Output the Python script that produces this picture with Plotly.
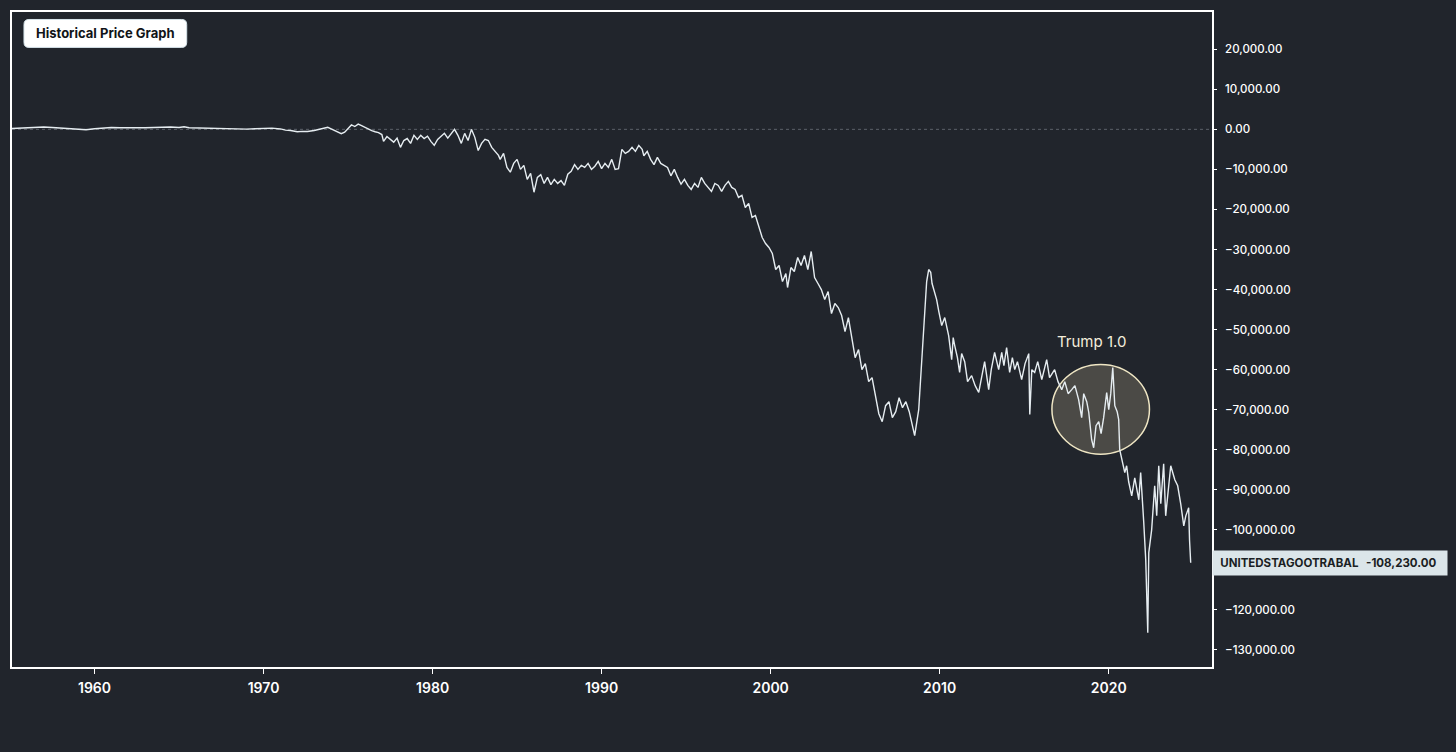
import plotly.graph_objects as go

# ---- data (US goods trade balance, millions USD) ----
years_a = [1955.1, 1955.5, 1956.0, 1956.5, 1957.0, 1957.5, 1958.0, 1958.5, 1959.0, 1959.5,
           1960.0, 1960.5, 1961.0, 1961.5, 1962.0, 1962.5, 1963.0, 1963.5, 1964.0, 1964.5,
           1965.0, 1965.3, 1965.6, 1966.0, 1966.5, 1967.0, 1967.5, 1968.0, 1968.5, 1969.0,
           1969.5, 1970.0, 1970.5, 1971.0, 1971.3, 1971.6, 1972.0, 1972.3, 1972.6, 1973.0,
           1973.3, 1973.6, 1973.8, 1974.0, 1974.3, 1974.6, 1974.8, 1975.0, 1975.2, 1975.4,
           1975.6, 1975.8]
balance_a = [200, 300, 400, 500, 600, 450, 300, 250, 0, -100,
             150, 350, 450, 400, 350, 300, 400, 450, 550, 600,
             450, 650, 400, 350, 300, 400, 350, 150, 100, 50,
             150, 250, 300, 100, -200, -300, -600, -500, -550, -300,
             0, 200, 500, 100, -600, -1100, -700, 300, 1100, 700,
             1300, 900]

years_b = [1976.0, 1976.2, 1976.4, 1976.6, 1976.8, 1977.0, 1977.1, 1977.3, 1977.5, 1977.7,
           1977.9, 1978.1, 1978.3, 1978.5, 1978.7, 1978.9, 1979.1, 1979.3, 1979.5, 1979.7,
           1979.9, 1980.1, 1980.3, 1980.5, 1980.7, 1980.9, 1981.1, 1981.3, 1981.5, 1981.7,
           1981.9, 1982.1, 1982.3, 1982.5, 1982.7, 1982.9, 1983.1, 1983.3, 1983.5, 1983.7,
           1983.9, 1984.0, 1984.2, 1984.4, 1984.6, 1984.8, 1985.0, 1985.2, 1985.4, 1985.6,
           1985.8, 1986.0, 1986.2, 1986.4, 1986.6, 1986.8, 1987.0, 1987.2, 1987.4, 1987.6,
           1987.8, 1988.0, 1988.2, 1988.4, 1988.6, 1988.8, 1989.0, 1989.2, 1989.4, 1989.6,
           1989.8, 1990.0, 1990.2, 1990.4, 1990.6, 1990.8, 1991.0, 1991.2, 1991.4, 1991.6,
           1991.8, 1992.0, 1992.2, 1992.4, 1992.5, 1992.7, 1992.9, 1993.1, 1993.3, 1993.5,
           1993.7, 1993.9, 1994.1, 1994.3, 1994.5, 1994.7, 1994.9, 1995.1, 1995.3, 1995.5,
           1995.7, 1995.9]
balance_b = [500, -100, -300, -600, -800, -1300, -3000, -1800, -2500, -3200,
             -2200, -4500, -2800, -2300, -3500, -1500, -2500, -1500, -2300, -1700,
             -3000, -4000, -2500, -1800, -1000, -2200, -1200, 0, -1500, -3500,
             -1000, -2800, 0, -2000, -5300, -3500, -2500, -2800, -4500, -5500,
             -6500, -7500, -6000, -9500, -10700, -8500, -7500, -10000, -9000, -12500,
             -11000, -15700, -12000, -11300, -13500, -12000, -13800, -12500, -13500, -12800,
             -14000, -11200, -10500, -8800, -10000, -9000, -9500, -8500, -10000, -9200,
             -8000, -9800, -8500, -9500, -7500, -10000, -9800, -5000, -6000, -5500,
             -4500, -5500, -4000, -5000, -6600, -5500, -7500, -8800, -7000, -8500,
             -9000, -9500, -11600, -10000, -12000, -13700, -12500, -14000, -15000, -13500,
             -14500, -12000]

years_c = [1996.1, 1996.3, 1996.5, 1996.7, 1996.9, 1997.1, 1997.3, 1997.5, 1997.7, 1997.9,
           1998.1, 1998.3, 1998.5, 1998.7, 1998.9, 1999.1, 1999.3, 1999.5, 1999.7, 1999.9,
           2000.1, 2000.3, 2000.5, 2000.7, 2000.9, 2001.0, 2001.2, 2001.4, 2001.6, 2001.8,
           2002.0, 2002.2, 2002.4, 2002.6, 2002.8, 2003.0, 2003.2, 2003.4, 2003.6, 2003.8,
           2004.0, 2004.2, 2004.4, 2004.6, 2004.8, 2005.0, 2005.2, 2005.4, 2005.6, 2005.8,
           2006.0, 2006.2, 2006.4, 2006.6, 2006.8, 2007.0, 2007.2, 2007.4, 2007.6, 2007.8,
           2008.0, 2008.2, 2008.35, 2008.52, 2008.76, 2008.93]
balance_c = [-13500, -14500, -15500, -13500, -14000, -15500, -14000, -13000, -14500, -15000,
             -17000, -16500, -19500, -18500, -22000, -21500, -24500, -27000, -28500, -29500,
             -31000, -35000, -34000, -38000, -36000, -39500, -34500, -35500, -32000, -34000,
             -31500, -35000, -30500, -37000, -38500, -40000, -42500, -40500, -46000, -43500,
             -44500, -46500, -50500, -47000, -52000, -57000, -55000, -60000, -58500, -63000,
             -62000, -67000, -71000, -73000, -69000, -68000, -72000, -70500, -67000, -69500,
             -68000, -70500, -73000, -76500, -70000, -58000]

years_d = [2009.05, 2009.23, 2009.35, 2009.47, 2009.55, 2009.64, 2009.82, 2009.95, 2010.12, 2010.3,
           2010.53, 2010.71, 2010.8, 2010.89, 2011.05, 2011.18, 2011.3, 2011.48, 2011.65, 2011.89,
           2012.1, 2012.31, 2012.5, 2012.66, 2012.9, 2013.05, 2013.25, 2013.49, 2013.67, 2013.8,
           2013.96, 2014.14, 2014.3, 2014.44, 2014.6, 2014.85, 2015.05, 2015.27, 2015.33, 2015.45,
           2015.62, 2015.8, 2016.04, 2016.2, 2016.33, 2016.5, 2016.63, 2016.8, 2017.0, 2017.22,
           2017.4, 2017.6, 2017.81, 2018.0, 2018.22, 2018.4, 2018.52, 2018.7, 2018.82, 2018.99,
           2019.11, 2019.25, 2019.41, 2019.55, 2019.7, 2019.88, 2020.0, 2020.12, 2020.24, 2020.36,
           2020.5, 2020.59, 2020.65, 2020.77, 2020.95, 2021.06, 2021.18, 2021.36, 2021.54, 2021.78,
           2021.89, 2022.07, 2022.19, 2022.31, 2022.37, 2022.54, 2022.72, 2022.84, 2022.96, 2023.08,
           2023.25, 2023.37, 2023.55, 2023.67, 2023.91, 2024.08, 2024.26, 2024.44, 2024.56, 2024.73,
           2024.78, 2024.85]
balance_d = [-51500, -38000, -35000, -35700, -38500, -40000, -42500, -45500, -49000, -47000,
             -51500, -57500, -52000, -54000, -57000, -60700, -56000, -58000, -63000, -61500,
             -64000, -65700, -61000, -58000, -65000, -60000, -55700, -60000, -55700, -59000,
             -54500, -60700, -57000, -60000, -58000, -62500, -58500, -56000, -71200, -60000,
             -60700, -58000, -62500, -60000, -57500, -62000, -61000, -60000, -63000, -65000,
             -63000, -66000, -65000, -64000, -67500, -72000, -66000, -68000, -70700, -77500,
             -79500, -74000, -73000, -76000, -72000, -65700, -70000, -66000, -59500, -69000,
             -70500, -72500, -80000, -82000, -85700, -84000, -88000, -91500, -87000, -92500,
             -85700, -98000, -107500, -125700, -105700, -100000, -89000, -96500, -84000, -93500,
             -83500, -96500, -89000, -84000, -87500, -89000, -93500, -99000, -96500, -94500,
             -102500, -108230]

series_name = "UNITEDSTAGOOTRABAL"
last_value_text = "-108,230.00"
y_ticks = [20000, 10000, 0, -10000, -20000, -30000, -40000, -50000, -60000, -70000,
           -80000, -90000, -100000, -120000, -130000]
x_ticks = [1960, 1970, 1980, 1990, 2000, 2010, 2020]

years = years_a + years_b + years_c + years_d
balance = balance_a + balance_b + balance_c + balance_d
assert len(years) == len(balance)

BG = "#21252c"
FONT = "Inter, Roboto, 'Noto Sans', sans-serif"

fig = go.Figure()
fig.add_trace(go.Scatter(
    x=years, y=balance, mode="lines",
    line=dict(color="#e6edf1", width=1.4),
    hoverinfo="skip", showlegend=False,
))

# zero reference line (dotted)
fig.add_hline(y=0, line=dict(color="#5c6169", width=1, dash="dot"), layer="below")

# Trump 1.0 ellipse
fig.add_shape(type="circle", xref="x", yref="y",
              x0=2016.64, x1=2022.41, y0=-81100, y1=-58700,
              fillcolor="#4b4a46", line=dict(color="#efe6c4", width=1.5), layer="below")
fig.add_annotation(x=2018.97, y=-52900, xref="x", yref="y", text="Trump 1.0",
                   showarrow=False, font=dict(family=FONT, size=15, color="#f4eedc"))

# title badge: rounded rectangle (paper coords; plot area is 1202 x 657 px)
PW, PH = 1202.0, 657.0
def px_x(p):
    return (p - 10) / PW
def px_y(p):
    return 1 - (p - 10) / PH
bx0, bx1, by0, by1, r = 22, 185, 17.5, 45.5, 5
path = (
    f"M {px_x(bx0 + r)},{px_y(by0)} L {px_x(bx1 - r)},{px_y(by0)} "
    f"Q {px_x(bx1)},{px_y(by0)} {px_x(bx1)},{px_y(by0 + r)} "
    f"L {px_x(bx1)},{px_y(by1 - r)} Q {px_x(bx1)},{px_y(by1)} {px_x(bx1 - r)},{px_y(by1)} "
    f"L {px_x(bx0 + r)},{px_y(by1)} Q {px_x(bx0)},{px_y(by1)} {px_x(bx0)},{px_y(by1 - r)} "
    f"L {px_x(bx0)},{px_y(by0 + r)} Q {px_x(bx0)},{px_y(by0)} {px_x(bx0 + r)},{px_y(by0)} Z"
)
fig.add_shape(type="path", xref="paper", yref="paper", path=path,
              fillcolor="#ffffff", line=dict(color="#d6e4ea", width=1), layer="above")
fig.add_annotation(xref="paper", yref="paper", x=px_x((bx0 + bx1) / 2), y=px_y((by0 + by1) / 2),
                   xanchor="center", yanchor="middle",
                   text="<b>Historical Price Graph</b>", showarrow=False,
                   font=dict(family=FONT, size=13, color="#111418"))

# last value label
fig.add_annotation(xref="paper", yref="y", x=1.0, y=-108230,
                   xanchor="left", yanchor="middle",
                   text="&nbsp;<b>" + series_name + "</b>", showarrow=False, align="left",
                   font=dict(family=FONT, size=11.5, color="#1b1f24"),
                   bgcolor="#dbe5e9", borderpad=4, width=226, height=16)
fig.add_annotation(xref="paper", yref="y", x=px_x(1439), y=-108230,
                   xanchor="right", yanchor="middle",
                   text="<b>" + last_value_text + "</b>", showarrow=False,
                   font=dict(family=FONT, size=11.5, color="#1b1f24"))

fig.update_layout(
    width=1456, height=752,
    paper_bgcolor=BG, plot_bgcolor=BG,
    margin=dict(l=10, r=244, t=10, b=85),
    font=dict(family=FONT, color="#ffffff"),
    showlegend=False,
    xaxis=dict(range=[1955.12, 2026.11], tickvals=x_ticks, ticktext=[str(v) for v in x_ticks],
               showgrid=False, zeroline=False, showline=True, mirror=True,
               linecolor="#ffffff", linewidth=1.5,
               ticks="outside", ticklen=5, tickcolor="#ffffff", tickwidth=1,
               ticklabelstandoff=2,
               tickfont=dict(family=FONT, size=14, color="#ffffff", weight=600)),
    yaxis=dict(range=[-134250, 29300], side="right", tickvals=y_ticks,
               tickformat=",.2f", showgrid=False, zeroline=False,
               showline=True, mirror=True, linecolor="#ffffff", linewidth=1.5,
               ticks="outside", ticklen=3, tickcolor="#ffffff", tickwidth=1,
               ticklabelstandoff=6,
               tickfont=dict(family=FONT, size=11.5, color="#ffffff", weight=500)),
)

fig.write_html("out.html")
